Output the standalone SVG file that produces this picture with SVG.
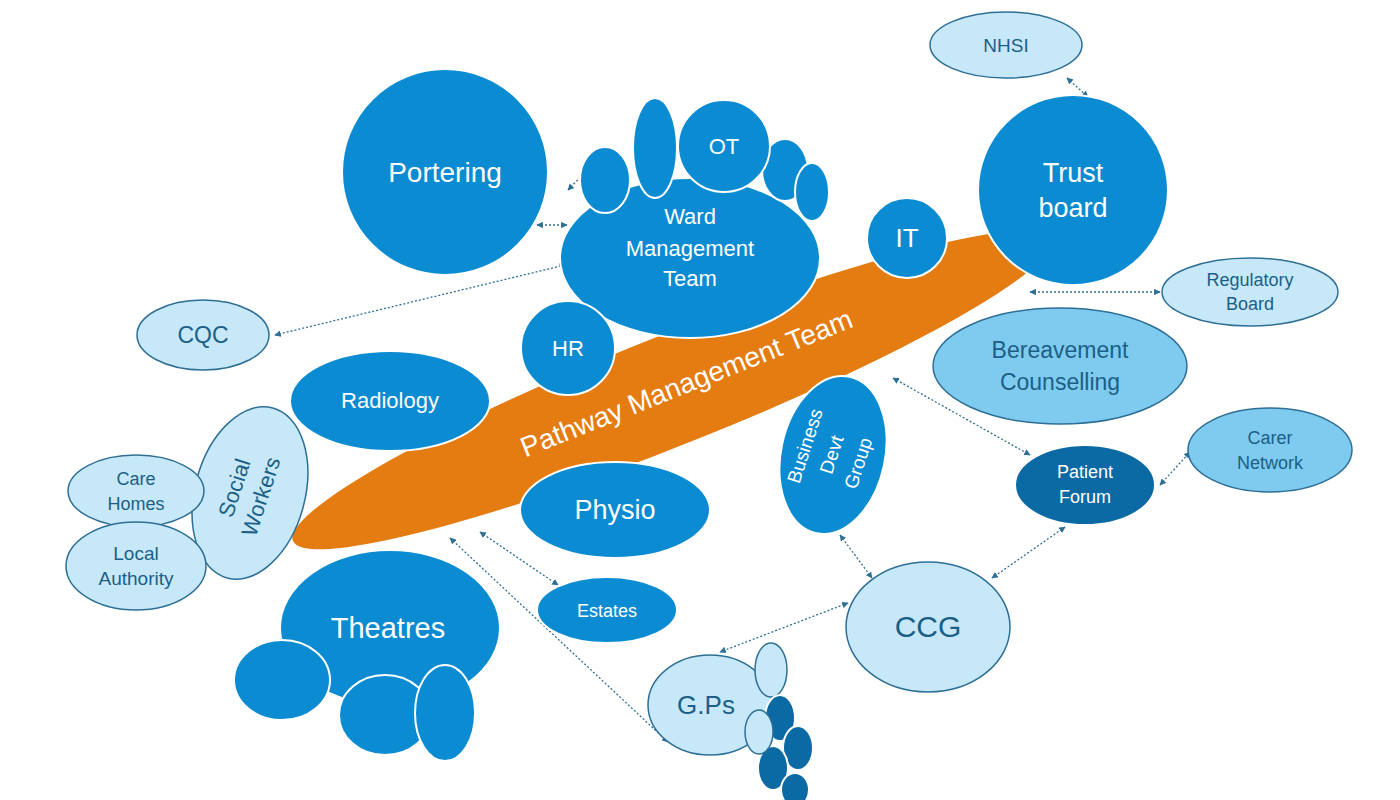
<svg xmlns="http://www.w3.org/2000/svg" width="1400" height="800" viewBox="0 0 1400 800">
<defs>
<marker id="a" viewBox="0 0 10 10" refX="9" refY="5" markerWidth="5" markerHeight="5" orient="auto-start-reverse"><path d="M0,0L10,5L0,10z" fill="#2e6f95"/></marker>
<style>
.m{fill:#0b8bd1;stroke:#fff;stroke-width:2}
.l{fill:#c7e8f8;stroke:#2e6f95;stroke-width:1.5}
.ml{fill:#7fcbf0;stroke:#2e6f95;stroke-width:1.5}
.d{fill:#0b6aa3;stroke:#fff;stroke-width:2}
.c{stroke:#2e6f95;stroke-width:1.3;stroke-dasharray:2 2;fill:none;marker-start:url(#a);marker-end:url(#a)}
text{font-family:Arial,"Liberation Sans",sans-serif;text-anchor:middle}
.w{fill:#fff}
.k{fill:#1b5f86}
</style>
</defs>
<rect width="1400" height="800" fill="#fff"/>
<g id="pathway"><ellipse cx="672" cy="390" rx="408" ry="55" fill="#e57c12" transform="rotate(-21.7 672 390)"/>
<text x="690" y="392" class="w" font-size="28" transform="rotate(-21.7 690 392)">Pathway Management Team</text></g>
<g id="connectors">
<line class="c" x1="568" y1="190" x2="587" y2="170"/>
<line class="c" x1="537" y1="225" x2="567" y2="225"/>
<line class="c" x1="275" y1="335" x2="565" y2="265"/>
<line class="c" x1="1067" y1="78" x2="1088" y2="97"/>
<line class="c" x1="1030" y1="292" x2="1160" y2="292"/>
<line class="c" x1="893" y1="378" x2="1030" y2="455"/>
<line class="c" x1="1160" y1="485" x2="1190" y2="452"/>
<line class="c" x1="1065" y1="527" x2="992" y2="578"/>
<line class="c" x1="840" y1="535" x2="872" y2="578"/>
<line class="c" x1="848" y1="603" x2="720" y2="652"/>
<line class="c" x1="480" y1="532" x2="558" y2="585"/>
<line class="c" x1="450" y1="538" x2="668" y2="742"/>
</g>
<g id="portering"><circle cx="445" cy="172" r="103" class="m"/><text x="445" y="182" class="w" font-size="28">Portering</text></g>
<g id="ward">
<ellipse cx="690" cy="258" rx="130" ry="80" class="m"/>
<ellipse cx="605" cy="180" rx="25" ry="33" class="m"/>
<ellipse cx="655" cy="148" rx="22" ry="50" class="m"/>
<ellipse cx="785" cy="170" rx="23" ry="31" class="m"/>
<ellipse cx="812" cy="192" rx="17" ry="29" class="m"/>
<circle cx="724" cy="146" r="46" class="m"/>
<text x="724" y="154" class="w" font-size="22">OT</text>
<text x="690" y="224" class="w" font-size="22">Ward</text>
<text x="690" y="256" class="w" font-size="22">Management</text>
<text x="690" y="286" class="w" font-size="22">Team</text></g>
<g id="trust"><circle cx="1073" cy="190" r="95" class="m"/><text x="1073" y="182" class="w" font-size="27">Trust</text><text x="1073" y="217" class="w" font-size="27">board</text></g>
<g id="nhsi"><ellipse cx="1006" cy="45" rx="76" ry="33" class="l"/><text x="1006" y="52" class="k" font-size="19">NHSI</text></g>
<g id="regulatory"><ellipse cx="1250" cy="292" rx="88" ry="34" class="l"/><text x="1250" y="286" class="k" font-size="18">Regulatory</text><text x="1250" y="310" class="k" font-size="18">Board</text></g>
<g id="it"><circle cx="907" cy="238" r="40" class="m"/><text x="907" y="247" class="w" font-size="26">IT</text></g>
<g id="cqc"><ellipse cx="203" cy="335" rx="66" ry="35" class="l"/><text x="203" y="343" class="k" font-size="23">CQC</text></g>
<g id="hr"><circle cx="568" cy="348" r="47" class="m"/><text x="568" y="356" class="w" font-size="22">HR</text></g>
<g id="radiology"><ellipse cx="390" cy="401" rx="100" ry="50" class="m"/><text x="390" y="408" class="w" font-size="22">Radiology</text></g>
<g id="bereavement"><ellipse cx="1060" cy="366" rx="127" ry="58" class="ml"/><text x="1060" y="358" class="k" font-size="23">Bereavement</text><text x="1060" y="390" class="k" font-size="23">Counselling</text></g>
<g id="business"><ellipse cx="833" cy="455" rx="52" ry="80" class="m" transform="rotate(12 833 455)"/>
<g transform="rotate(-72 833 455)"><text x="833" y="432" class="w" font-size="19">Business</text><text x="833" y="460" class="w" font-size="19">Devt</text><text x="833" y="488" class="w" font-size="19">Group</text></g></g>
<g id="patientforum"><ellipse cx="1085" cy="485" rx="70" ry="40" class="d"/><text x="1085" y="478" class="w" font-size="18">Patient</text><text x="1085" y="503" class="w" font-size="18">Forum</text></g>
<g id="carer"><ellipse cx="1270" cy="450" rx="82" ry="42" class="ml"/><text x="1270" y="444" class="k" font-size="18">Carer</text><text x="1270" y="469" class="k" font-size="18">Network</text></g>
<g id="social"><ellipse cx="250" cy="493" rx="55" ry="88" class="l" transform="rotate(15 250 493)"/>
<g transform="rotate(-72 250 493)"><text x="250" y="484" class="k" font-size="22">Social</text><text x="250" y="512" class="k" font-size="22">Workers</text></g></g>
<g id="carehomes"><ellipse cx="136" cy="491" rx="68" ry="36" class="l"/><text x="136" y="485" class="k" font-size="18">Care</text><text x="136" y="510" class="k" font-size="18">Homes</text></g>
<g id="local"><ellipse cx="136" cy="566" rx="70" ry="44" class="l"/><text x="136" y="560" class="k" font-size="19">Local</text><text x="136" y="585" class="k" font-size="19">Authority</text></g>
<g id="physio"><ellipse cx="615" cy="510" rx="95" ry="48" class="m"/><text x="615" y="519" class="w" font-size="27">Physio</text></g>
<g id="theatres">
<ellipse cx="390" cy="628" rx="110" ry="78" class="m"/>
<ellipse cx="282" cy="680" rx="48" ry="40" class="m"/>
<ellipse cx="385" cy="715" rx="46" ry="40" class="m"/>
<ellipse cx="445" cy="713" rx="30" ry="48" class="m"/>
<text x="388" y="638" class="w" font-size="29">Theatres</text></g>
<g id="estates"><ellipse cx="607" cy="610" rx="70" ry="33" class="m"/><text x="607" y="617" class="w" font-size="18">Estates</text></g>
<g id="ccg"><ellipse cx="928" cy="627" rx="82" ry="65" class="l"/><text x="928" y="637" class="k" font-size="30">CCG</text></g>
<g id="gps">
<ellipse cx="710" cy="705" rx="62" ry="50" class="l"/>
<ellipse cx="771" cy="670" rx="16" ry="27" class="l"/>
<ellipse cx="780" cy="718" rx="15" ry="23" class="d"/>
<ellipse cx="798" cy="748" rx="15" ry="22" class="d"/>
<ellipse cx="773" cy="768" rx="15" ry="22" class="d"/>
<ellipse cx="795" cy="790" rx="14" ry="17" class="d"/>
<ellipse cx="759" cy="732" rx="14" ry="22" class="l"/>
<text x="706" y="714" class="k" font-size="26">G.Ps</text></g>
</svg>
